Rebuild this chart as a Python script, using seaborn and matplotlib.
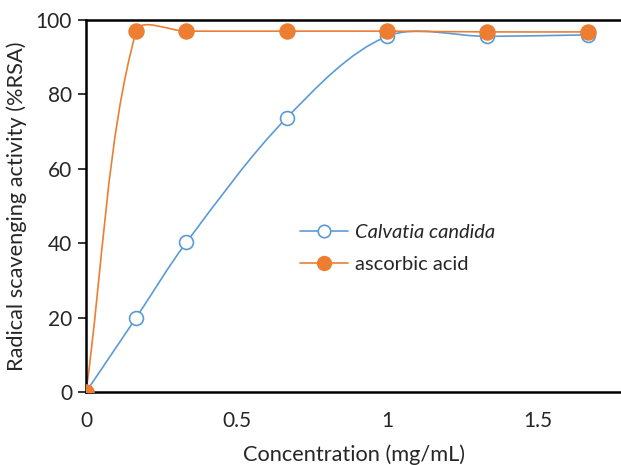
import matplotlib
matplotlib.use("Agg")
import matplotlib.pyplot as plt
import numpy as np
import pandas as pd
import seaborn as sns
from matplotlib.lines import Line2D
from matplotlib.path import Path
from matplotlib.patches import PathPatch

concentration = [0, 0.1667, 0.3333, 0.6667, 1.0, 1.3333, 1.6667]
calvatia = [0, 20, 40.2, 73.7, 95.6, 95.6, 96.0]
ascorbic = [0, 97.0, 97.0, 97.0, 97.0, 96.8, 96.8]

series_names = ["Calvatia candida", "ascorbic acid"]
colors = {"Calvatia candida": "#5B9BD5", "ascorbic acid": "#ED7D31"}

df = pd.DataFrame({
    "conc": concentration * 2,
    "rsa": calvatia + ascorbic,
    "series": [series_names[0]] * len(concentration) + [series_names[1]] * len(concentration),
})

sns.set_style("white")
plt.rcParams["font.family"] = ["Lato", "DejaVu Sans"]


def smooth_path(ax, x, y, t=1 / 3):
    # excel-like smoothed line, control points scaled by segment length on screen
    pts = ax.transData.transform(np.column_stack([x, y]).astype(float))
    n = len(pts)
    ctrl_in, ctrl_out = [None] * n, [None] * n
    for i in range(n):
        p0 = pts[i - 1] if i > 0 else pts[i]
        p1 = pts[i]
        p2 = pts[i + 1] if i < n - 1 else pts[i]
        d01 = np.hypot(*(p1 - p0))
        d12 = np.hypot(*(p2 - p1))
        tot = d01 + d12 if d01 + d12 > 0 else 1
        ctrl_in[i] = p1 - t * d01 / tot * (p2 - p0)
        ctrl_out[i] = p1 + t * d12 / tot * (p2 - p0)
    verts = [pts[0]]
    codes = [Path.MOVETO]
    for i in range(n - 1):
        verts += [ctrl_out[i], ctrl_in[i + 1], pts[i + 1]]
        codes += [Path.CURVE4] * 3
    verts = ax.transData.inverted().transform(np.array(verts))
    return Path(verts, codes)


fig = plt.figure(figsize=(6.21, 4.65), dpi=100)
ax = fig.add_axes([0.1385, 0.157, 0.8615, 0.8])
ax.set_xlim(0, 1.777)
ax.set_ylim(0, 100)

for name in series_names:
    sub = df[df["series"] == name]
    patch = PathPatch(smooth_path(ax, sub["conc"], sub["rsa"]), facecolor="none",
                      edgecolor=colors[name], lw=1.2, zorder=2)
    ax.add_patch(patch)

sub = df[df["series"] == series_names[0]]
sns.scatterplot(data=sub, x="conc", y="rsa", ax=ax, marker="o", s=100,
                facecolor="white", edgecolor=colors[series_names[0]], linewidth=1.2, zorder=3)
sub = df[df["series"] == series_names[1]]
sns.scatterplot(data=sub, x="conc", y="rsa", ax=ax, marker="o", s=120,
                color=colors[series_names[1]], edgecolor=colors[series_names[1]], zorder=4)

ax.set_xlim(0, 1.777)
ax.set_ylim(0, 100)
ax.set_xticks([0, 0.5, 1, 1.5])
ax.set_xticklabels(["0", "0.5", "1", "1.5"])
ax.set_yticks([0, 20, 40, 60, 80, 100])
ax.tick_params(axis="x", direction="in", length=6, width=1.3, labelsize=15, pad=14)
ax.tick_params(axis="y", direction="out", length=6, width=1.3, labelsize=15, pad=4, left=True)
for s in ["left", "bottom", "top"]:
    ax.spines[s].set_color("black")
    ax.spines[s].set_linewidth(1.8)
ax.spines["right"].set_visible(False)

ax.set_xlabel("Concentration (mg/mL)", fontsize=15.7, labelpad=9)
ax.set_ylabel("Radical scavenging activity (%RSA)", fontsize=15.7, labelpad=6)

handles = [
    Line2D([], [], color=colors[series_names[0]], lw=1.2, marker="o", markersize=9,
           markerfacecolor="white", markeredgewidth=1.2),
    Line2D([], [], color=colors[series_names[1]], lw=1.2, marker="o", markersize=10),
]
leg = ax.legend(handles, series_names, loc="upper left", bbox_to_anchor=(0.40, 0.452),
                frameon=False, fontsize=14.5, handlelength=2.4, handletextpad=0.35,
                labelspacing=0.75, borderpad=0, borderaxespad=0)
leg.get_texts()[0].set_style("italic")

fig.savefig("out.png", dpi=100)
